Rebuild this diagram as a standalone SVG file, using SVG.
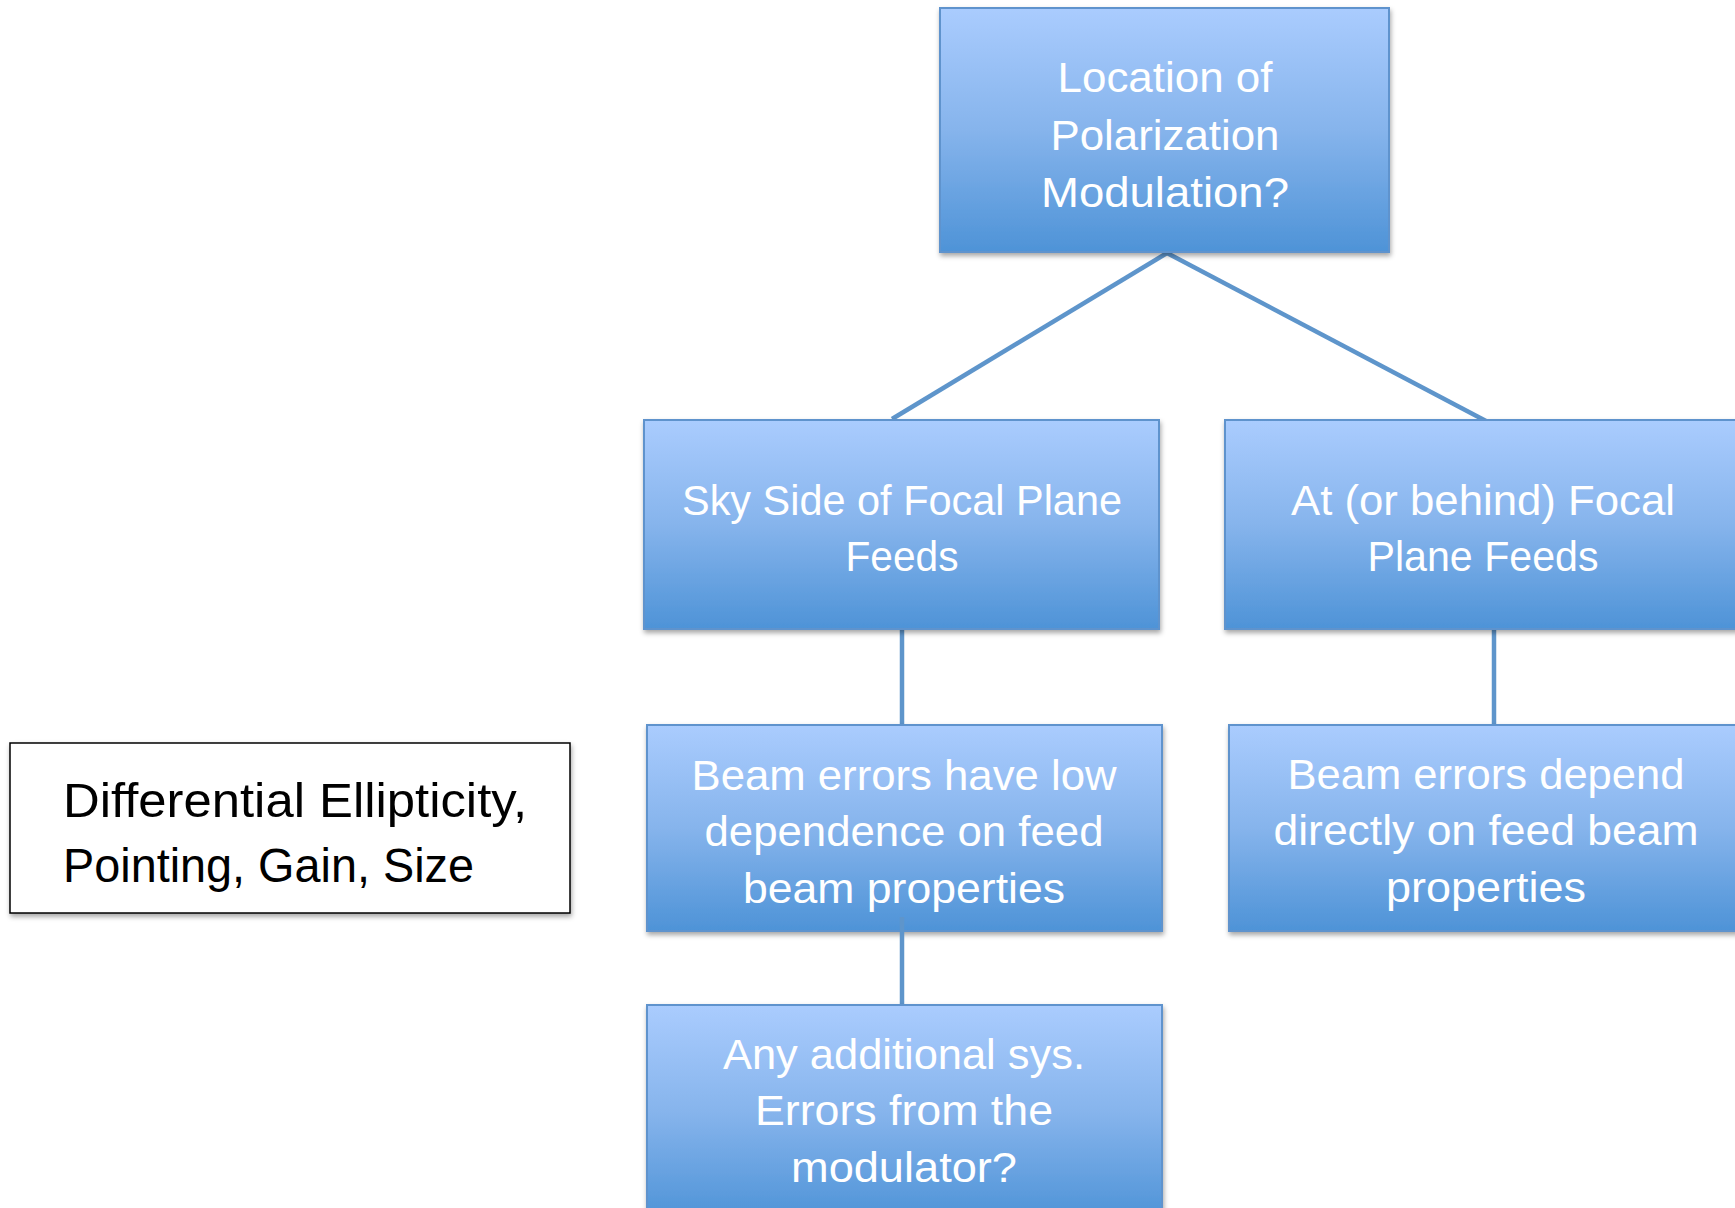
<svg xmlns="http://www.w3.org/2000/svg" width="1735" height="1208" viewBox="0 0 1735 1208">
<style>
.box{fill:url(#g);stroke:#5F93CD;stroke-width:2;filter:url(#sh)}
.t{font-family:"Liberation Sans",Arial,sans-serif;font-size:43px;fill:#FFFFFF;text-anchor:middle}
.k{font-family:"Liberation Sans",Arial,sans-serif;font-size:49px;fill:#000000}
.c{stroke:#5E95CB;stroke-width:4.5;fill:none}
</style>
<defs>
<linearGradient id="g" x1="0" y1="0" x2="0" y2="1">
<stop offset="0" stop-color="#AACCFE"/>
<stop offset="0.5" stop-color="#86B4EC"/>
<stop offset="1" stop-color="#4E93D7"/>
</linearGradient>
<filter id="sh" x="-5%" y="-5%" width="115%" height="120%">
<feDropShadow dx="1" dy="3" stdDeviation="2.5" flood-color="#000" flood-opacity="0.35"/>
</filter>
</defs>
<rect width="1735" height="1208" fill="#FFFFFF"/>
<g id="connectors">
<line class="c" x1="1167" y1="253" x2="892" y2="419"/>
<line class="c" x1="1167" y1="253" x2="1486" y2="421"/>
<line class="c" x1="902" y1="629" x2="902" y2="726"/>
<line class="c" x1="1494" y1="629" x2="1494" y2="725"/>
</g>
<g id="n-top">
<rect class="box" x="940" y="8" width="449" height="244"/>
<text class="t" x="1165" y="92" textLength="215" lengthAdjust="spacingAndGlyphs">Location of</text>
<text class="t" x="1165" y="149.5" textLength="229" lengthAdjust="spacingAndGlyphs">Polarization</text>
<text class="t" x="1165" y="207" textLength="248" lengthAdjust="spacingAndGlyphs">Modulation?</text>
</g>
<g id="n-sky">
<rect class="box" x="644" y="420" width="515" height="209"/>
<text class="t" x="902" y="515" textLength="440" lengthAdjust="spacingAndGlyphs">Sky Side of Focal Plane</text>
<text class="t" x="902" y="571" textLength="113" lengthAdjust="spacingAndGlyphs">Feeds</text>
</g>
<g id="n-at">
<rect class="box" x="1225" y="420" width="520" height="209"/>
<text class="t" x="1483" y="515" textLength="384" lengthAdjust="spacingAndGlyphs">At (or behind) Focal</text>
<text class="t" x="1483" y="571" textLength="231" lengthAdjust="spacingAndGlyphs">Plane Feeds</text>
</g>
<g id="n-low">
<rect class="box" x="647" y="725" width="515" height="206"/>
<text class="t" x="904" y="790" textLength="425" lengthAdjust="spacingAndGlyphs">Beam errors have low</text>
<text class="t" x="904" y="846" textLength="399" lengthAdjust="spacingAndGlyphs">dependence on feed</text>
<text class="t" x="904" y="903" textLength="322" lengthAdjust="spacingAndGlyphs">beam properties</text>
</g>
<g id="n-depend">
<rect class="box" x="1229" y="725" width="516" height="206"/>
<text class="t" x="1486" y="789" textLength="397" lengthAdjust="spacingAndGlyphs">Beam errors depend</text>
<text class="t" x="1486" y="845" textLength="425" lengthAdjust="spacingAndGlyphs">directly on feed beam</text>
<text class="t" x="1486" y="902" textLength="200" lengthAdjust="spacingAndGlyphs">properties</text>
</g>
<g id="connector-bottom">
<line class="c" x1="902" y1="917" x2="902" y2="1006"/>
</g>
<g id="n-any">
<rect class="box" x="647" y="1005" width="515" height="215"/>
<text class="t" x="904" y="1069" textLength="362" lengthAdjust="spacingAndGlyphs">Any additional sys.</text>
<text class="t" x="904" y="1125" textLength="298" lengthAdjust="spacingAndGlyphs">Errors from the</text>
<text class="t" x="904" y="1182" textLength="226" lengthAdjust="spacingAndGlyphs">modulator?</text>
</g>
<g id="n-diff">
<rect x="10" y="743" width="560" height="170" fill="#FFFFFF" stroke="#000000" stroke-width="1.5" filter="url(#sh)"/>
<text class="k" x="63" y="817" textLength="464" lengthAdjust="spacingAndGlyphs">Differential Ellipticity,</text>
<text class="k" x="63" y="882" textLength="411" lengthAdjust="spacingAndGlyphs">Pointing, Gain, Size</text>
</g>
</svg>
